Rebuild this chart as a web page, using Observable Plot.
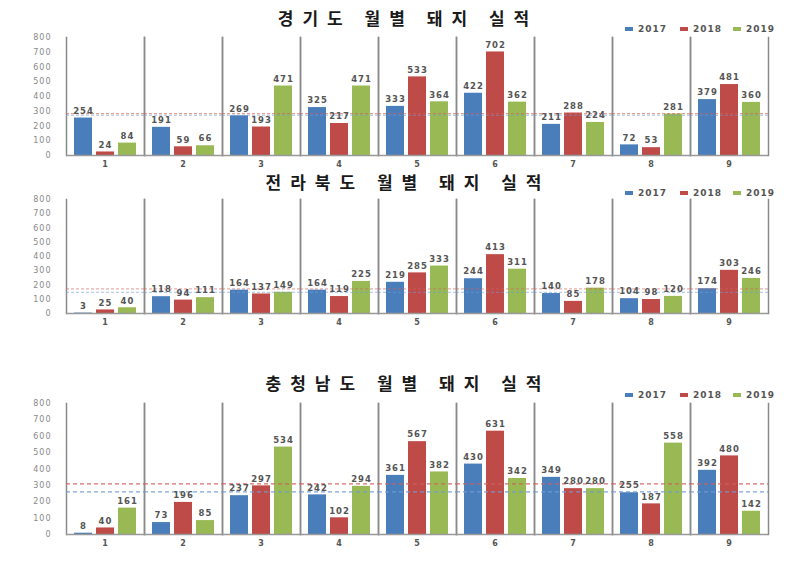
<!DOCTYPE html>
<html><head><meta charset="utf-8">
<script src="https://cdn.jsdelivr.net/npm/d3@7"></script>
<script src="https://cdn.jsdelivr.net/npm/@observablehq/plot@0.6"></script>
<style>
body{margin:0;background:#fff;}
#wrap{position:relative;width:807px;height:575px;overflow:hidden;background:#fff;}
.title{position:absolute;left:0;width:807px;text-align:center;font-family:"Noto Sans CJK KR",sans-serif;font-weight:bold;font-size:17px;line-height:18px;letter-spacing:9px;padding-left:9px;box-sizing:border-box;color:#1a1a1a;}
.panel{position:absolute;left:0;}
.lg{position:absolute;font-family:"DejaVu Sans",sans-serif;font-weight:bold;font-size:9px;letter-spacing:1px;color:#555;line-height:12px;white-space:nowrap;}
.lg i{display:inline-block;width:8px;height:4px;vertical-align:middle;margin-right:5px;position:relative;top:-1px;}
</style></head>
<body><div id="wrap"></div>
<script>
const months = [1, 2, 3, 4, 5, 6, 7, 8, 9];
const years = ["2017", "2018", "2019"];
const colors = ["#4a7ebb", "#be4b48", "#98b954"];
const avgColors = ["#6f9bd6", "#d0605c"];
const yTicks = [0, 100, 200, 300, 400, 500, 600, 700, 800];

const titles = ["경기도 월별 돼지 실적", "전라북도 월별 돼지 실적", "충청남도 월별 돼지 실적"];

const gyeonggi2017 = [254, 191, 269, 325, 333, 422, 211, 72, 379];
const gyeonggi2018 = [24, 59, 193, 217, 533, 702, 288, 53, 481];
const gyeonggi2019 = [84, 66, 471, 471, 364, 362, 224, 281, 360];

const jeonbuk2017 = [3, 118, 164, 164, 219, 244, 140, 104, 174];
const jeonbuk2018 = [25, 94, 137, 119, 285, 413, 85, 98, 303];
const jeonbuk2019 = [40, 111, 149, 225, 333, 311, 178, 120, 246];

const chungnam2017 = [8, 73, 237, 242, 361, 430, 349, 255, 392];
const chungnam2018 = [40, 196, 297, 102, 567, 631, 280, 187, 480];
const chungnam2019 = [161, 85, 534, 294, 382, 342, 280, 558, 142];

const panels = [
  {title: titles[0], values: [gyeonggi2017, gyeonggi2018, gyeonggi2019], top: 37, bottom: 155, titleY: 17.5, legendY: 29, avgDash: "3,2", avgOpacity: 0.6},
  {title: titles[1], values: [jeonbuk2017, jeonbuk2018, jeonbuk2019], top: 199, bottom: 313, titleY: 182, legendY: 193, avgDash: "3,2", avgOpacity: 0.5},
  {title: titles[2], values: [chungnam2017, chungnam2018, chungnam2019], top: 403, bottom: 534, titleY: 383, legendY: 395, avgDash: "4,3", avgOpacity: 0.9}
];

const wrap = document.getElementById("wrap");

panels.forEach(cfg => {
  const rows = [];
  years.forEach((yr, i) => cfg.values[i].forEach((v, j) => rows.push({month: months[j], year: yr, value: v})));
  const mt = 12, mb = 22;
  const chart = Plot.plot({
    width: 807,
    height: (cfg.bottom - cfg.top) + mt + mb,
    marginTop: mt, marginBottom: mb, marginLeft: 65, marginRight: 39,
    style: {background: "transparent", fontFamily: "DejaVu Sans, sans-serif", fontSize: "8px", letterSpacing: "1px", color: "#666"},
    fx: {domain: months, padding: 0, label: null, axis: null},
    x: {domain: years, axis: null, paddingInner: 0.2, paddingOuter: 0.3},
    y: {domain: [0, 800], axis: null},
    color: {domain: years, range: colors},
    marks: [
      Plot.axisY({ticks: yTicks, tickSize: 0, tickPadding: 15, label: null, fill: "#888", fontSize: 8}),
      Plot.axisFx({anchor: "bottom", tickSize: 0, tickPadding: 6, label: null, fill: "#555", fontWeight: "bold", fontSize: 8}),
      Plot.frame({anchor: "left", stroke: "#8a8a8a", strokeWidth: 1.5}),
      Plot.frame({anchor: "right", stroke: "#8a8a8a", strokeWidth: 1.5}),
      Plot.barY(rows, {fx: "month", x: "year", y: "value", fill: "year"}),
      Plot.ruleY([0], {stroke: "#999", strokeWidth: 1.5}),
      Plot.ruleY(rows.filter(d => d.year !== "2019"),
        Plot.groupZ({y: "mean"}, {y: "value", z: "year", stroke: d => avgColors[years.indexOf(d.year)], strokeDasharray: cfg.avgDash, strokeWidth: 1.2, strokeOpacity: cfg.avgOpacity})),
      Plot.text(rows, {fx: "month", x: "year", y: "value", text: d => String(d.value), dy: -7, fill: "#555", fontWeight: "bold", fontSize: 8.5})
    ]
  });
  chart.classList.add("panel");
  chart.style.top = (cfg.top - mt) + "px";
  wrap.appendChild(chart);

  const t = document.createElement("div");
  t.className = "title";
  t.textContent = cfg.title;
  t.style.top = (cfg.titleY - 9) + "px";
  wrap.appendChild(t);

  const lx = [625, 680, 733];
  years.forEach((yr, i) => {
    const d = document.createElement("div");
    d.className = "lg";
    d.style.left = lx[i] + "px";
    d.style.top = (cfg.legendY - 6) + "px";
    const m = document.createElement("i");
    m.style.background = colors[i];
    d.appendChild(m);
    d.appendChild(document.createTextNode(yr));
    wrap.appendChild(d);
  });
});
</script>
</body></html>
